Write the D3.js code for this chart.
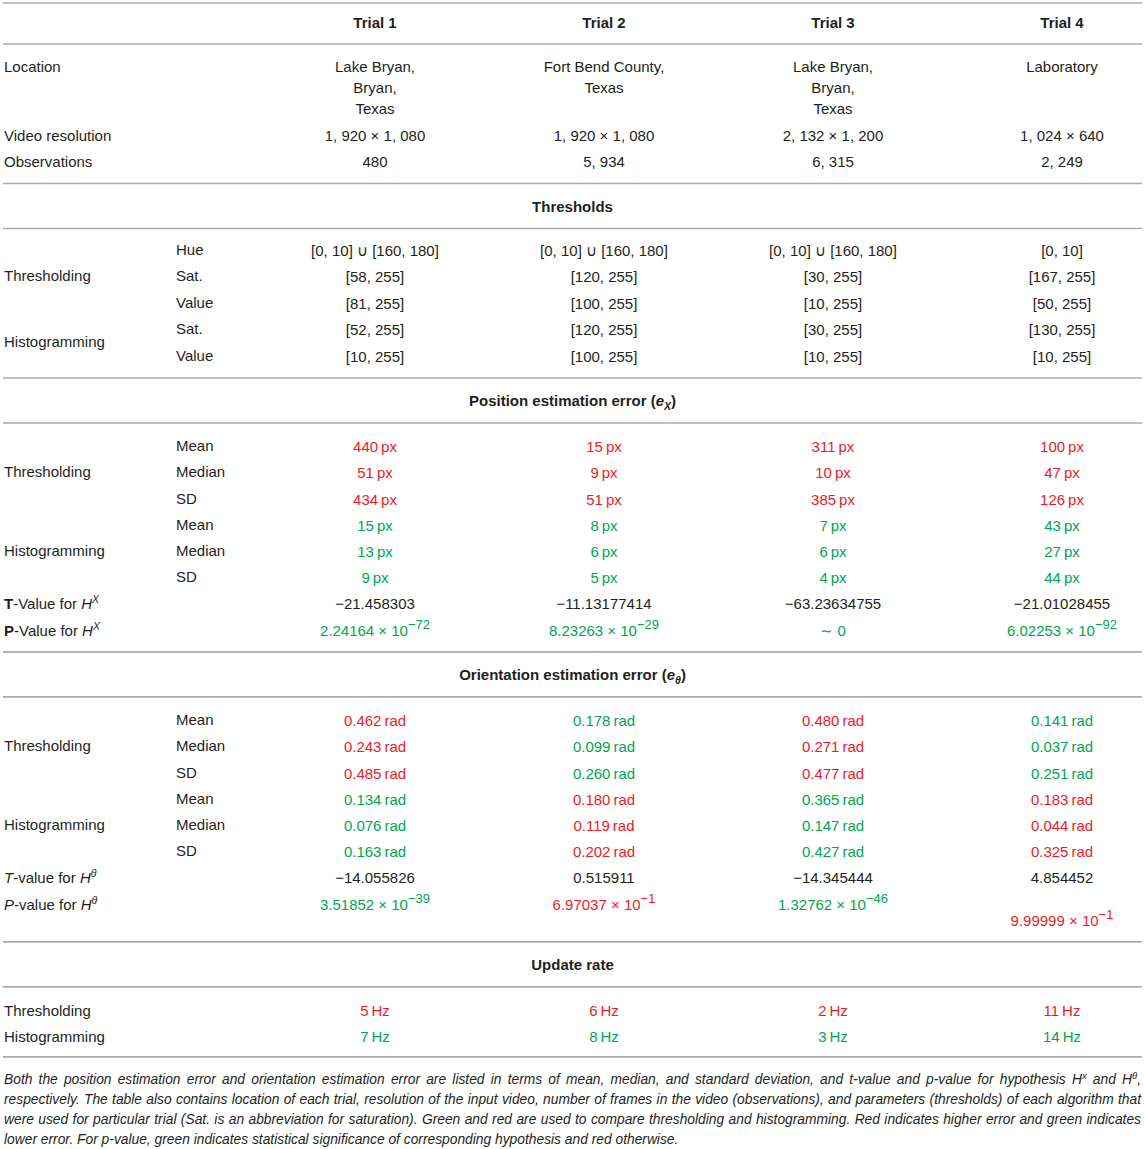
<!DOCTYPE html>
<html><head><meta charset="utf-8">
<script src="https://cdn.jsdelivr.net/npm/d3@7"></script>
<style>
body{margin:0;background:#fff;}
svg{display:block;font-family:"Liberation Sans",Arial,Helvetica,sans-serif;}
</style></head><body>
<svg id="t" width="1145" height="1149"></svg>
<script>
// ---------------- DATA ----------------
const trials = ["Trial 1", "Trial 2", "Trial 3", "Trial 4"];
const locations = [["Lake Bryan,", "Bryan,", "Texas"], ["Fort Bend County,", "Texas"], ["Lake Bryan,", "Bryan,", "Texas"], ["Laboratory"]];
const resolutions = [[1920, 1080], [1920, 1080], [2132, 1200], [1024, 640]];
const observations = [480, 5934, 6315, 2249];

const thrHue = [[[0, 10], [160, 180]], [[0, 10], [160, 180]], [[0, 10], [160, 180]], [[0, 10]]];
const thrSat = [[58, 255], [120, 255], [30, 255], [167, 255]];
const thrValue = [[81, 255], [100, 255], [10, 255], [50, 255]];
const histSat = [[52, 255], [120, 255], [30, 255], [130, 255]];
const histValue = [[10, 255], [100, 255], [10, 255], [10, 255]];

const posThrMean = [440, 15, 311, 100];
const posThrMedian = [51, 9, 10, 47];
const posThrSD = [434, 51, 385, 126];
const posHistMean = [15, 8, 7, 43];
const posHistMedian = [13, 6, 6, 27];
const posHistSD = [9, 5, 4, 44];
const tValueX = [-21.458303, -11.13177414, -63.23634755, -21.01028455];
const pValueX = [2.24164e-72, 8.23263e-29, 0, 6.02253e-92];

const oriThrMean = [0.462, 0.178, 0.480, 0.141];
const oriThrMedian = [0.243, 0.099, 0.271, 0.037];
const oriThrSD = [0.485, 0.260, 0.477, 0.251];
const oriHistMean = [0.134, 0.180, 0.365, 0.183];
const oriHistMedian = [0.076, 0.119, 0.147, 0.044];
const oriHistSD = [0.163, 0.202, 0.427, 0.325];
const tValueTheta = [-14.055826, 0.515911, -14.345444, 4.854452];
const pValueTheta = [3.51852e-39, 6.97037e-1, 1.32762e-46, 9.99999e-1];

const rateThr = [5, 6, 2, 11];
const rateHist = [7, 8, 3, 14];

const footnote = [
  [{t: "Both the position estimation error and orientation estimation error are listed in terms of mean, median, and standard deviation, and t-value and p-value for hypothesis "}, {t: "H"}, {t: "x", sup: 1}, {t: " and "}, {t: "H"}, {t: "\u03b8", sup: 1}, {t: ","}],
  [{t: "respectively. The table also contains location of each trial, resolution of the input video, number of frames in the video (observations), and parameters (thresholds) of each algorithm that"}],
  [{t: "were used for particular trial (Sat. is an abbreviation for saturation). Green and red are used to compare thresholding and histogramming. Red indicates higher error and green indicates"}],
  [{t: "lower error. For p-value, green indicates statistical significance of corresponding hypothesis and red otherwise."}]
];

// ---------------- STYLE / FORMAT ----------------
const RED = "#ed1c24", GREEN = "#00a651", INK = "#231f20", RULE = "#ababab";
const W = 1145;
const fmtInt = n => d3.format(",")(n).replace(/,/g, ", ");
const fmtInterval = a => "[" + a[0] + ", " + a[1] + "]";
const fmtHue = l => l.map(fmtInterval).join(" \u222a ");
const fmtRes = r => fmtInt(r[0]) + " \u00d7 " + fmtInt(r[1]);
const minus = s => String(s).replace("-", "\u2212");
const fmtPx = v => v + "\u2009px";
const fmtRad = v => d3.format(".3f")(v) + "\u2009rad";
const fmtHz = v => v + "\u2009Hz";
function fmtP(p) {
  if (p === 0) return [{t: "\u223c 0"}];
  const [m, e] = p.toExponential(5).split("e");
  return [{t: m + " \u00d7 10"}, {t: minus(e), sup: 1, size: 13, dy: -7}];
}
const sig = p => p < 0.05 ? GREEN : RED;
const worse = (a, b) => a > b ? RED : GREEN;   // higher error -> red
const slower = (a, b) => a < b ? RED : GREEN;  // lower update rate -> red

const txt = s => [{t: s}];
const cellsOf = (arr, f, colors) => arr.map((v, i) => ({spans: txt(f(v)), fill: colors ? colors[i] : INK}));

const posThrCol = posThrMean.map((v, i) => worse(v, posHistMean[i]));
const posHistCol = posHistMean.map((v, i) => worse(v, posThrMean[i]));
const oriThrCol = oriThrMean.map((v, i) => worse(v, oriHistMean[i]));
const oriHistCol = oriHistMean.map((v, i) => worse(v, oriThrMean[i]));
const rateThrCol = rateThr.map((v, i) => slower(v, rateHist[i]));
const rateHistCol = rateHist.map((v, i) => slower(v, rateThr[i]));

const sections = [
  {type: "rows", pitch: 26.5, first: 23, groups: [
    {rows: [
      {label: txt("Location"), cells: locations.map(l => ({lines: l, fill: INK}))},
      {label: txt("Video resolution"), cells: cellsOf(resolutions, fmtRes)},
      {label: txt("Observations"), cells: cellsOf(observations, fmtInt)}
    ]}
  ]},
  {type: "heading", spans: txt("Thresholds")},
  {type: "rows", pitch: 26.5, first: 22, groups: [
    {label: "Thresholding", rows: [
      {sub: "Hue", cells: cellsOf(thrHue, fmtHue)},
      {sub: "Sat.", cells: cellsOf(thrSat, fmtInterval)},
      {sub: "Value", cells: cellsOf(thrValue, fmtInterval)}
    ]},
    {label: "Histogramming", rows: [
      {sub: "Sat.", cells: cellsOf(histSat, fmtInterval)},
      {sub: "Value", cells: cellsOf(histValue, fmtInterval)}
    ]}
  ]},
  {type: "heading", spans: [{t: "Position estimation error ("}, {t: "e", i: 1}, {t: "X", i: 1, sub: 1}, {t: ")"}]},
  {type: "rows", pitch: 26.2, first: 24, groups: [
    {label: "Thresholding", rows: [
      {sub: "Mean", cells: cellsOf(posThrMean, fmtPx, posThrCol)},
      {sub: "Median", cells: cellsOf(posThrMedian, fmtPx, posThrCol)},
      {sub: "SD", cells: cellsOf(posThrSD, fmtPx, posThrCol)}
    ]},
    {label: "Histogramming", rows: [
      {sub: "Mean", cells: cellsOf(posHistMean, fmtPx, posHistCol)},
      {sub: "Median", cells: cellsOf(posHistMedian, fmtPx, posHistCol)},
      {sub: "SD", cells: cellsOf(posHistSD, fmtPx, posHistCol)}
    ]},
    {rows: [
      {label: [{t: "T", b: 1}, {t: "-Value for "}, {t: "H", i: 1}, {t: "X", i: 1, sup: 1}], cells: cellsOf(tValueX, minus)},
      {label: [{t: "P", b: 1}, {t: "-Value for "}, {t: "H", i: 1}, {t: "X", i: 1, sup: 1}], cells: pValueX.map(p => ({spans: fmtP(p), fill: sig(p)}))}
    ]}
  ]},
  {type: "heading", spans: [{t: "Orientation estimation error ("}, {t: "e", i: 1}, {t: "\u03b8", i: 1, sub: 1}, {t: ")"}]},
  {type: "rows", pitch: 26.2, first: 24, extra: 16, groups: [
    {label: "Thresholding", rows: [
      {sub: "Mean", cells: cellsOf(oriThrMean, fmtRad, oriThrCol)},
      {sub: "Median", cells: cellsOf(oriThrMedian, fmtRad, oriThrCol)},
      {sub: "SD", cells: cellsOf(oriThrSD, fmtRad, oriThrCol)}
    ]},
    {label: "Histogramming", rows: [
      {sub: "Mean", cells: cellsOf(oriHistMean, fmtRad, oriHistCol)},
      {sub: "Median", cells: cellsOf(oriHistMedian, fmtRad, oriHistCol)},
      {sub: "SD", cells: cellsOf(oriHistSD, fmtRad, oriHistCol)}
    ]},
    {rows: [
      {label: [{t: "T", i: 1}, {t: "-value for "}, {t: "H", i: 1}, {t: "\u03b8", i: 1, sup: 1}], cells: cellsOf(tValueTheta, minus)},
      {label: [{t: "P", i: 1}, {t: "-value for "}, {t: "H", i: 1}, {t: "\u03b8", i: 1, sup: 1}], cells: pValueTheta.map(p => ({spans: fmtP(p), fill: sig(p)})), cellDy: [0, 0, 0, 16]}
    ]}
  ]},
  {type: "heading", spans: txt("Update rate")},
  {type: "rows", pitch: 26, first: 24, bottom: 20, groups: [
    {rows: [
      {label: txt("Thresholding"), cells: cellsOf(rateThr, fmtHz, rateThrCol)},
      {label: txt("Histogramming"), cells: cellsOf(rateHist, fmtHz, rateHistCol)}
    ]}
  ]}
];

// ---------------- RENDER ----------------
const svg = d3.select("#t");
const x = d3.scalePoint().domain(trials).range([375, 1062]);
const LABEL_X = 4, SUB_X = 176, RULE_L = 3, RULE_R = 1142;
const BASE = 5.2; // baseline offset from row centre

function rich(sel, spans) {
  let shift = 0;
  spans.forEach(s => {
    const target = s.sup ? (s.dy || -6) : s.sub ? 4 : 0;
    const ts = sel.append("tspan").text(s.t);
    if (target !== shift) { ts.attr("dy", target - shift); shift = target; }
    if (s.b) ts.attr("font-weight", "bold");
    if (s.i) ts.attr("font-style", "italic");
    if (s.sup || s.sub) ts.attr("font-size", s.size || 10.5);
  });
  return sel;
}
function rule(y) {
  svg.append("line").attr("x1", RULE_L).attr("x2", RULE_R).attr("y1", y).attr("y2", y)
    .attr("stroke", RULE).attr("stroke-width", 1.7);
}
function put(xp, yc, spans, opts = {}) {
  const t = svg.append("text").attr("x", xp).attr("y", yc + BASE)
    .attr("font-size", opts.size || 15).attr("fill", opts.fill || INK)
    .attr("text-anchor", opts.anchor || "start");
  if (opts.bold) t.attr("font-weight", "bold");
  return rich(t, spans);
}

let y = 3;
rule(y);
trials.forEach(tr => put(x(tr), y + 20, txt(tr), {anchor: "middle", bold: true}));
y = 44;
rule(y);

sections.forEach(sec => {
  if (sec.type === "heading") {
    const c = y + 23;
    put(W / 2, c, sec.spans, {anchor: "middle", bold: true});
    y = c + 22;
    rule(y);
    return;
  }
  let c = y + sec.first;
  let last = c;
  sec.groups.forEach(g => {
    const centers = [];
    g.rows.forEach(r => {
      centers.push(c);
      if (r.label) put(LABEL_X, c, r.label);
      if (r.sub) put(SUB_X, c - 1, txt(r.sub));
      let maxLines = 1;
      r.cells.forEach((cell, i) => {
        const cx = x(trials[i]);
        const dy = r.cellDy ? r.cellDy[i] : 0;
        if (cell.lines) {
          maxLines = Math.max(maxLines, cell.lines.length);
          cell.lines.forEach((ln, k) => put(cx, c + k * 21, txt(ln), {anchor: "middle", fill: cell.fill}));
        } else {
          put(cx, c + dy, cell.spans, {anchor: "middle", fill: cell.fill});
        }
      });
      last = c + (maxLines - 1) * 21;
      c = last + sec.pitch;
    });
    if (g.label) put(LABEL_X, d3.mean(centers) - 1, txt(g.label));
  });
  y = last + (sec.extra || 0) + (sec.bottom || 21.5);
  rule(y);
});

// footnote, justified lines
const FN_L = 4, FN_R = 1141;
footnote.forEach((line, k) => {
  const t = svg.append("text").attr("x", FN_L).attr("y", 1084 + k * 20)
    .attr("font-size", 13.8).attr("font-style", "italic").attr("fill", INK);
  rich(t, line.map(s => s.sup ? Object.assign({size: 9.5, dy: -5}, s) : s));
  if (k < footnote.length - 1) {
    const len = t.node().getComputedTextLength();
    const spaces = line.map(s => s.t).join("").split(" ").length - 1;
    t.style("word-spacing", ((FN_R - FN_L - len) / spaces) + "px");
  }
});
</script>
</body></html>
